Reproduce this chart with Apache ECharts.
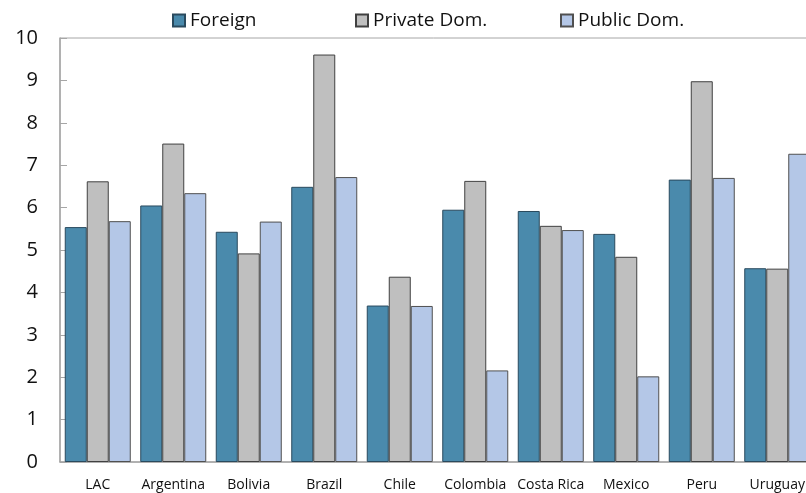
<!DOCTYPE html>
<html><head><meta charset="utf-8">
<script src="https://cdn.jsdelivr.net/npm/echarts@6/dist/echarts.min.js"></script>
<style>html,body{margin:0;padding:0;background:#fff}#c{width:806px;height:493px}</style>
</head><body><div id="c"></div>
<script>
var categories = ['LAC','Argentina','Bolivia','Brazil','Chile','Colombia','Costa Rica','Mexico','Peru','Uruguay'];
var foreign = [5.54, 6.05, 5.43, 6.49, 3.69, 5.95, 5.92, 5.38, 6.66, 4.57];
var privateDom = [6.62, 7.51, 4.92, 9.61, 4.37, 6.63, 5.57, 4.84, 8.98, 4.56];
var publicDom = [5.68, 6.34, 5.67, 6.72, 3.68, 2.16, 5.47, 2.02, 6.70, 7.27];
var yTicks = [0,1,2,3,4,5,6,7,8,9,10];

var font = '"Open Sans", "Noto Sans", sans-serif';
var chart = echarts.init(document.getElementById('c'));
function leg(name, left){
  return {data:[name], left:left, top:11, itemWidth:12, itemHeight:12, itemGap:5, padding:0,
    textStyle:{fontFamily:font, fontSize:19, color:'#111'}, icon:'rect'};
}
var barBase = {type:'bar', barGap:'0%', barWidth:22};
chart.setOption({
  animation:false,
  legend:[leg('Foreign',172), leg('Private Dom.',355), leg('Public Dom.',560)],
  grid:{left:60, top:38, width:755, height:424, outerBoundsMode:'none', containLabel:false,
    show:true, borderColor:'#a6a6a6', borderWidth:1},
  xAxis:{type:'category', data:categories,
    axisLine:{lineStyle:{color:'#a6a6a6', width:1.5}},
    axisTick:{inside:true, length:6, lineStyle:{color:'#a6a6a6'}},
    axisLabel:{interval:0, fontFamily:font, fontSize:14, color:'#111', margin:16}},
  yAxis:{type:'value', min:0, max:10, interval:1,
    axisLine:{show:true, lineStyle:{color:'#a6a6a6', width:1.5}},
    axisTick:{show:true, inside:true, length:7, lineStyle:{color:'#a6a6a6'}},
    splitLine:{show:false},
    axisLabel:{fontFamily:font, fontSize:20, color:'#111', margin:22,
      formatter:function(v){return yTicks.indexOf(v)>=0? String(v):'';}}},
  series:[
    Object.assign({}, barBase, {name:'Foreign', data:foreign, itemStyle:{color:'#4a8aac', borderColor:'#2a4a5e', borderWidth:1}}),
    Object.assign({}, barBase, {name:'Private Dom.', data:privateDom, itemStyle:{color:'#bfbfbf', borderColor:'#404040', borderWidth:1}}),
    Object.assign({}, barBase, {name:'Public Dom.', data:publicDom, itemStyle:{color:'#b4c7e7', borderColor:'#505050', borderWidth:1}})
  ]
});
</script></body></html>
